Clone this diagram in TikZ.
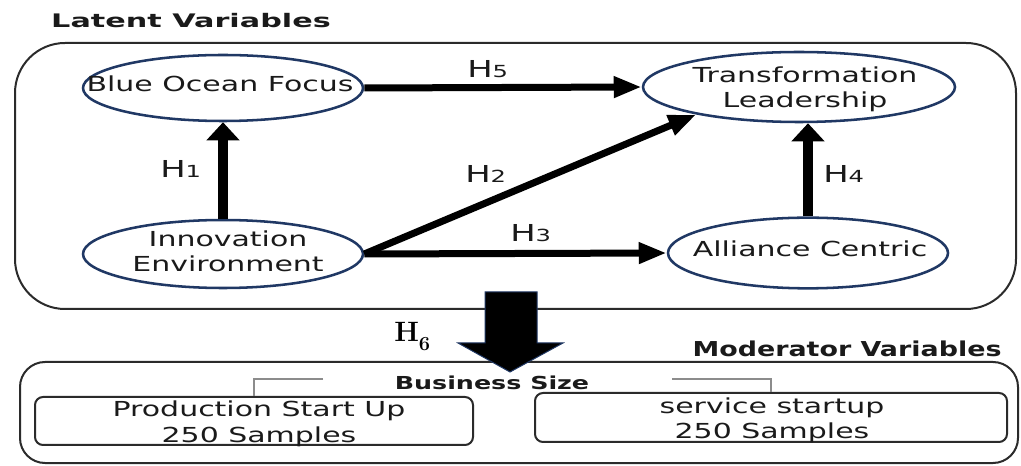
\documentclass[tikz,border=0pt]{standalone}
\usepackage{fontspec}
\usepackage{graphicx}
\usetikzlibrary{shapes.geometric,arrows.meta}
\newfontfamily\reg[FakeStretch=1.45]{DejaVu Sans}
\newfontfamily\bld{DejaVu Sans Bold}
\definecolor{navy}{HTML}{203864}
\definecolor{txt}{HTML}{1A1A1A}
\definecolor{frame}{HTML}{2B2B2B}
\definecolor{brk}{HTML}{8C8C8C}
\begin{document}
\begin{tikzpicture}[x=0.75pt,y=-0.75pt,
 ell/.style={draw=navy, line width=1.9pt, ellipse, inner sep=0pt, fill=white},
 etext/.style={font=\reg\fontsize{15.5}{19}\selectfont, text=txt, align=center, inner sep=0pt, anchor=base},
 hlab/.style={font=\reg\fontsize{17.5}{18}\selectfont, text=txt, inner sep=0pt, anchor=base west},
 frm/.style={draw=frame, line width=1.5pt, inner sep=0pt},
 sbox/.style={draw=frame, line width=1.5pt, rounded corners=6pt, inner sep=0pt},
 harr/.style={line width=5.25pt, -{Triangle[length=21pt,width=15pt]}},
 varr/.style={line width=7.5pt, -{Triangle[length=13.5pt,width=24pt]}},
 brack/.style={draw=brk, line width=1.5pt},
 ttl/.style={font=\bld\fontsize{14}{16}\selectfont, text=txt, inner sep=0pt, anchor=base}
]
\useasboundingbox (0,0) rectangle (1021,466);
% frames
\node[frm, rounded corners=37.5pt, minimum width=750.75pt, minimum height=199.5pt] (latbox) at (515.5,176) {};
\node[frm, rounded corners=18.75pt, minimum width=748.5pt, minimum height=75.75pt] (modbox) at (519,412.5) {};
% titles
\node[ttl] (latt) at (191,28) {\scalebox{1.62}[1]{Latent Variables}};
\node[ttl, font=\bld\fontsize{15.4}{18}\selectfont] (modt) at (847,357) {\scalebox{1.31}[1]{Moderator Variables}};
\node[ttl, font=\bld\fontsize{13.4}{16}\selectfont] (bst) at (492,390) {\scalebox{1.42}[1]{Business Size}};
% ellipses
\node[ell, minimum width=210pt, minimum height=49.5pt] (bo) at (223,88) {};
\node[ell, minimum width=234pt, minimum height=52.5pt] (tl) at (799,87) {};
\node[ell, minimum width=210pt, minimum height=51pt] (ie) at (223,254) {};
\node[ell, minimum width=210pt, minimum height=53pt] (ac) at (808,253) {};
\node[etext] (bot) at (220,92) {Blue Ocean Focus};
\node[etext] (tlt) at (805,108) {Transformation\\Leadership};
\node[etext] (iet) at (228,272) {Innovation\\Environment};
\node[etext] (act) at (810,257) {Alliance Centric};
% arrows
\draw[varr] (ie.north) -- (bo.south);
\draw[harr] (bo.east) -- (tl.west);
\draw[harr] (ie.east) -- (ac.west);
\draw[harr] (ie.east) -- (tl.195);
\draw[varr] (ac.north) -- (ac.north |- tl.south);
% labels
\node[hlab] (h1) at (160,178) {H{\fontsize{12.5}{12}\selectfont 1}};
\node[hlab] (h5) at (467,78) {H{\fontsize{12.5}{12}\selectfont 5}};
\node[hlab] (h2) at (465,183) {H{\fontsize{12.5}{12}\selectfont 2}};
\node[hlab] (h3) at (510,242) {H{\fontsize{12.5}{12}\selectfont 3}};
\node[hlab] (h4) at (823,183) {H{\fontsize{12.5}{12}\selectfont 4}};
% block arrow
\draw[fill=black, draw=navy, line width=0.75pt] (485,292) -- (537,292) -- (537,343) -- (563,343) -- (510,372) -- (458,343) -- (485,343) -- cycle;
\node[anchor=base west, inner sep=0pt, font=\fontsize{21}{22}\selectfont\bfseries] (h6) at (394,342) {H\raisebox{-0.3em}{\fontsize{15}{15}\selectfont 6}};
% moderator boxes
\node[sbox, minimum width=328.5pt, minimum height=36pt] (prod) at (254,421) {};
\node[sbox, minimum width=354pt, minimum height=36.75pt] (serv) at (771,417.5) {};
\node[etext] (prodt) at (259,442) {Production Start Up\\250 Samples};
\node[etext] (servt) at (772,439) {service startup\\250 Samples};
\coordinate (bl) at (323,379);
\coordinate (br) at (672,379);
\draw[brack] (bl) -| (prod.north);
\draw[brack] (br) -| (serv.north);
\end{tikzpicture}
\end{document}
